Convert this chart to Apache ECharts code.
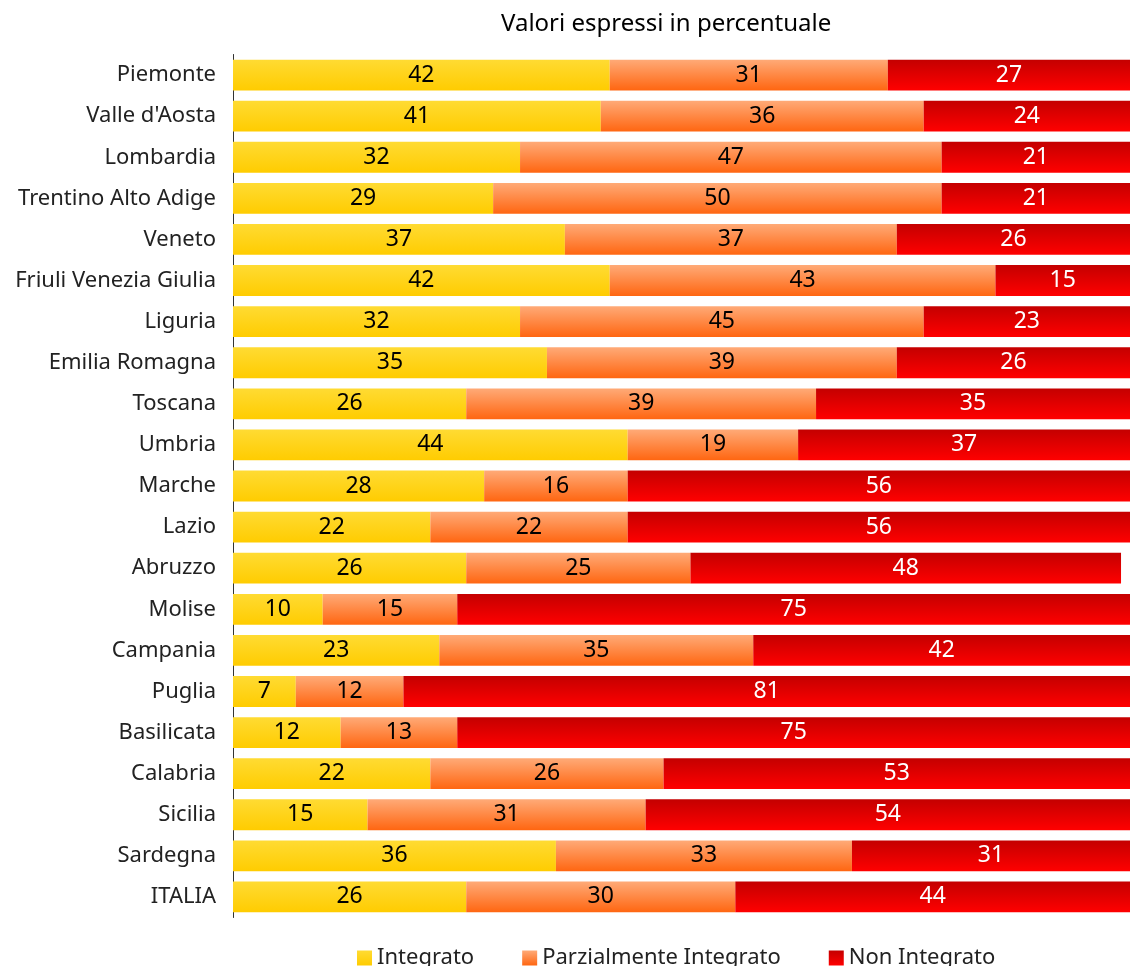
<!DOCTYPE html>
<html>
<head>
<meta charset="utf-8">
<script src="https://cdn.jsdelivr.net/npm/echarts@6/dist/echarts.min.js"></script>
<style>
  html, body { margin: 0; padding: 0; background: #fff; }
  #chart { width: 1130px; height: 966px; }
</style>
</head>
<body>
<div id="chart"></div>
<script>
// Regioni italiane, dall'alto verso il basso
const regioni = [
  'Piemonte', "Valle d'Aosta", 'Lombardia', 'Trentino Alto Adige', 'Veneto',
  'Friuli Venezia Giulia', 'Liguria', 'Emilia Romagna', 'Toscana', 'Umbria',
  'Marche', 'Lazio', 'Abruzzo', 'Molise', 'Campania', 'Puglia', 'Basilicata',
  'Calabria', 'Sicilia', 'Sardegna', 'ITALIA'
];

// Percentuali per livello di integrazione
const integrato = [42, 41, 32, 29, 37, 42, 32, 35, 26, 44, 28, 22, 26, 10, 23, 7, 12, 22, 15, 36, 26];
const parzialmente = [31, 36, 47, 50, 37, 43, 45, 39, 39, 19, 16, 22, 25, 15, 35, 12, 13, 26, 31, 33, 30];
const nonIntegrato = [27, 24, 21, 21, 26, 15, 23, 26, 35, 37, 56, 56, 48, 75, 42, 81, 75, 53, 54, 31, 44];

const FONT = 'Noto Sans';

function grad(top, bottom) {
  return new echarts.graphic.LinearGradient(0, 0, 0, 1, [
    { offset: 0, color: top },
    { offset: 1, color: bottom }
  ]);
}

function serie(name, data, top, bottom, labelColor) {
  return {
    name: name,
    type: 'bar',
    stack: 'tot',
    data: data,
    barCategoryGap: '25%',
    itemStyle: { color: grad(top, bottom) },
    label: {
      show: true,
      position: 'inside',
      color: labelColor,
      fontFamily: FONT,
      fontSize: 23,
      formatter: p => String(p.value)
    }
  };
}

const chart = echarts.init(document.getElementById('chart'), null, { renderer: 'canvas' });

chart.setOption({
  backgroundColor: '#ffffff',
  animation: false,
  title: {
    text: 'Valori espressi in percentuale',
    left: 496,
    top: 7,
    textStyle: { fontFamily: FONT, fontSize: 24, fontWeight: 'normal', color: '#000' }
  },
  legend: {
    left: 352,
    top: 942,
    icon: 'rect',
    itemWidth: 15,
    itemHeight: 15,
    itemGap: 48,
    textStyle: { fontFamily: FONT, fontSize: 22, color: '#222' },
    data: ['Integrato', 'Parzialmente Integrato', 'Non Integrato']
  },
  grid: { left: 233, right: 0, top: 54.5, bottom: 48.5, containLabel: false },
  xAxis: {
    type: 'value',
    min: 0,
    max: 100,
    show: false
  },
  yAxis: {
    type: 'category',
    inverse: true,
    data: regioni,
    axisLine: { show: true, lineStyle: { color: '#333', width: 1 } },
    axisTick: { show: false },
    axisLabel: { fontFamily: FONT, fontSize: 22, color: '#222', margin: 17 }
  },
  series: [
    serie('Integrato', integrato, '#FFDB33', '#FFCC00', '#000'),
    serie('Parzialmente Integrato', parzialmente, '#FFAA77', '#FF6611', '#000'),
    serie('Non Integrato', nonIntegrato, '#C40000', '#FF0000', '#fff')
  ]
});
</script>
</body>
</html>
